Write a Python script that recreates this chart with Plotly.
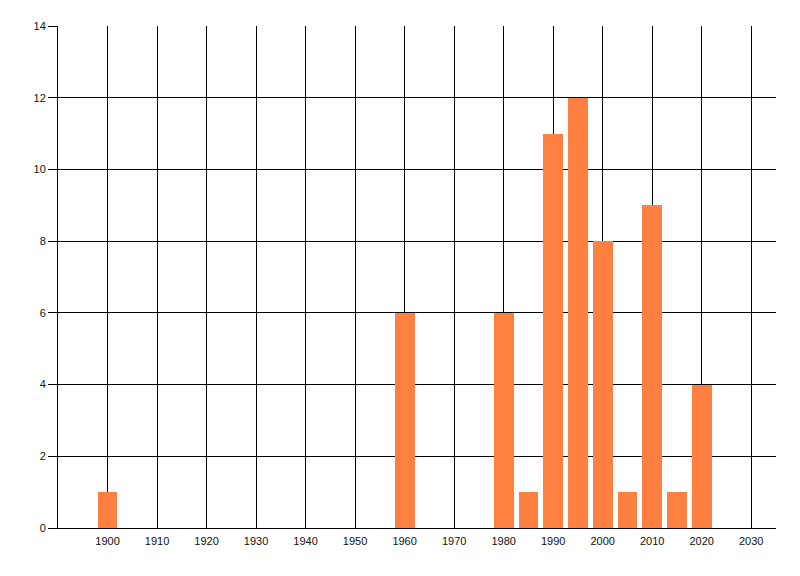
import plotly.graph_objects as go

years = [1900, 1960, 1980, 1985, 1990, 1995, 2000, 2005, 2010, 2015, 2020]
counts = [1, 6, 6, 1, 11, 12, 8, 1, 9, 1, 4]
x_ticks = list(range(1900, 2031, 10))
y_ticks = list(range(0, 15, 2))

fig = go.Figure()
fig.add_trace(go.Bar(x=years, y=counts, width=4, marker=dict(color="#FF8040", line=dict(width=0))))

# page body has an 8px default margin, so offsets are compensated here
fig.update_layout(
    width=800, height=576,
    margin=dict(l=50, r=32, t=18, b=56, autoexpand=False),
    paper_bgcolor="white", plot_bgcolor="white",
    showlegend=False,
    font=dict(family="Liberation Sans, Arial, sans-serif", size=11, color="#111"),
    bargap=0,
)
fig.update_xaxes(
    range=[1890, 2035], tickvals=x_ticks, ticktext=[str(v) for v in x_ticks],
    showgrid=True, gridcolor="black", gridwidth=1,
    showline=True, linecolor="black", linewidth=1,
    ticks="", zeroline=False, automargin=False, ticklabelstandoff=3,
)
fig.update_yaxes(
    range=[0, 14], tickvals=y_ticks,
    showgrid=True, gridcolor="black", gridwidth=1,
    showline=True, linecolor="black", linewidth=1,
    ticks="outside", ticklen=9, tickcolor="black",
    zeroline=False, automargin=False,
)
fig.write_html("out.html")
